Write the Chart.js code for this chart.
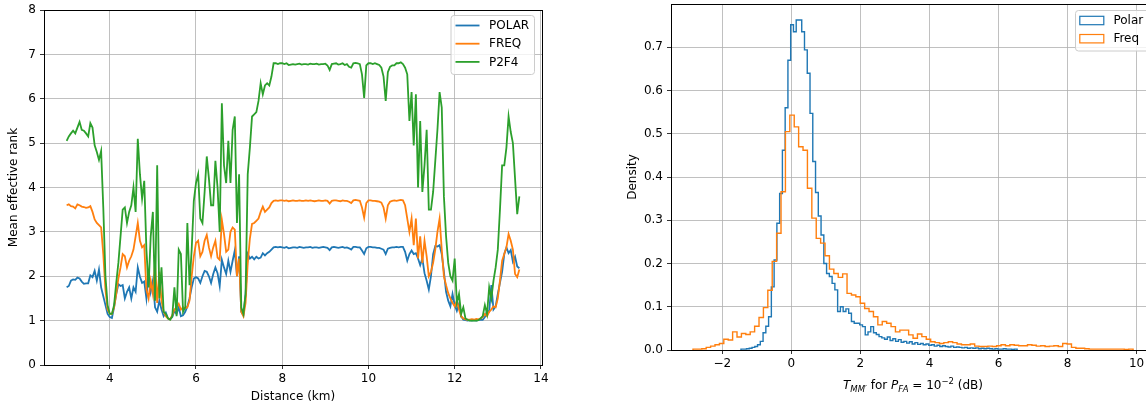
<!DOCTYPE html>
<html>
<head>
<meta charset="utf-8">
<script src="https://cdn.jsdelivr.net/npm/chart.js@4.4.1/dist/chart.umd.min.js"></script>
<style>
html,body{margin:0;padding:0;background:#fff;width:1146px;height:405px;overflow:hidden;}
#wrap{position:relative;width:1146px;height:405px;overflow:hidden;background:#fff;}
#c1{position:absolute;left:0;top:0;}
#c2{position:absolute;left:600px;top:0;}
#xlab2{position:absolute;left:763px;width:300px;top:378px;text-align:center;font-family:'DejaVu Sans',sans-serif;font-size:12px;line-height:14px;white-space:nowrap;color:#000;}
#xlab2 sub,#xlab2 sup{font-size:8.5px;line-height:0;position:relative;vertical-align:baseline;}
#xlab2 sub{top:3px;}
#xlab2 sup{top:-5px;}
</style>
</head>
<body>
<div id="wrap">
<canvas id="c1" width="560" height="405"></canvas>
<canvas id="c2" width="600" height="405"></canvas>
<div id="xlab2"><i>T</i><sub><i>MM′</i></sub> for <i>P</i><sub><i>FA</i></sub> = 10<sup>−2</sup> (dB)</div>
</div>
<script>
// ---------------- DATA ----------------
// Left panel: mean effective rank vs distance (km), sampled every 0.05 km from 3.0 km
const DIST_START = 3.0;
const DIST_STEP = 0.05;
const polarRank = [
 1.75,1.78,1.90,1.93,1.92,1.97,1.95,1.88,1.83,1.84,
 1.84,2.02,1.98,2.12,1.90,2.15,1.75,1.55,1.35,1.15,
 1.08,1.06,1.30,1.60,1.82,1.78,1.80,1.50,1.65,1.75,
 1.50,1.75,1.65,2.20,1.99,1.85,1.88,1.50,2.10,1.65,
 1.90,1.30,1.20,1.45,1.25,1.10,1.18,1.05,1.03,1.08,
 1.22,1.15,1.30,1.10,1.12,1.20,1.32,1.50,1.75,1.95,
 1.98,1.95,1.85,2.00,2.12,2.10,2.00,1.85,2.05,2.20,
 2.07,1.78,2.37,2.20,2.05,2.35,2.10,2.35,2.58,2.00,
 2.45,1.20,1.12,1.60,2.50,2.40,2.44,2.38,2.44,2.40,
 2.42,2.52,2.47,2.52,2.55,2.60,2.65,2.66,2.65,2.66,
 2.65,2.64,2.66,2.63,2.64,2.65,2.65,2.64,2.66,2.65,
 2.64,2.65,2.65,2.66,2.64,2.65,2.65,2.64,2.65,2.66,
 2.65,2.64,2.59,2.65,2.66,2.65,2.64,2.65,2.66,2.64,
 2.65,2.63,2.60,2.66,2.66,2.65,2.65,2.58,2.50,2.63,
 2.66,2.66,2.65,2.65,2.64,2.64,2.62,2.60,2.50,2.62,
 2.64,2.65,2.65,2.66,2.65,2.66,2.66,2.55,2.35,2.50,
 2.58,2.50,2.52,2.40,2.25,2.40,2.07,1.90,1.70,2.00,
 2.50,2.68,2.67,2.70,2.50,2.10,1.65,1.45,1.32,1.60,
 1.35,1.22,1.38,1.10,1.02,1.01,1.00,1.01,1.00,1.01,
 1.00,1.01,1.02,1.02,1.08,1.22,1.20,1.80,1.25,1.32,
 1.60,1.85,2.10,2.50,2.65,2.52,2.59,2.33,2.44,2.22,
 2.18
];
const freqRank = [
 3.60,3.62,3.58,3.57,3.53,3.62,3.60,3.57,3.56,3.54,
 3.55,3.58,3.45,3.28,3.20,3.15,3.10,2.50,1.70,1.25,
 1.16,1.15,1.30,1.60,1.95,2.20,2.50,2.45,2.20,2.35,
 2.45,2.60,2.90,3.20,2.80,2.65,2.70,1.70,1.50,1.90,
 1.60,2.30,1.40,2.10,1.45,1.20,1.10,1.05,1.03,1.12,
 1.25,1.30,1.38,1.25,1.30,1.28,1.30,1.45,2.00,2.45,
 2.75,2.80,2.45,2.55,2.80,2.93,2.65,2.45,2.65,2.80,
 2.42,2.37,3.27,2.95,2.55,2.60,3.00,3.10,3.05,2.00,
 2.40,1.20,1.10,1.40,2.30,2.85,3.18,3.20,3.25,3.30,
 3.45,3.57,3.45,3.50,3.55,3.65,3.70,3.71,3.70,3.71,
 3.71,3.70,3.71,3.69,3.70,3.71,3.70,3.70,3.71,3.70,
 3.70,3.71,3.70,3.71,3.70,3.69,3.70,3.71,3.70,3.70,
 3.71,3.70,3.64,3.70,3.71,3.71,3.70,3.69,3.71,3.70,
 3.70,3.68,3.65,3.71,3.72,3.71,3.70,3.55,3.32,3.65,
 3.71,3.71,3.70,3.70,3.69,3.68,3.66,3.55,3.30,3.60,
 3.68,3.70,3.71,3.70,3.71,3.72,3.71,3.60,3.30,3.00,
 3.30,2.70,3.30,2.40,2.90,2.30,2.80,2.45,2.00,2.10,
 2.30,2.60,3.00,3.30,2.60,2.00,1.80,1.62,1.50,1.40,
 1.32,1.45,1.25,1.10,1.05,1.03,1.02,1.02,1.03,1.02,
 1.04,1.03,1.05,1.08,1.15,1.10,1.20,1.25,1.32,1.30,
 1.50,1.90,2.35,2.50,2.65,2.95,2.80,2.60,2.05,1.98,
 2.15
];
const p2f4Rank = [
 5.05,5.15,5.22,5.28,5.22,5.35,5.48,5.30,5.28,5.22,
 5.15,5.45,5.35,4.95,4.80,4.62,4.82,3.55,2.00,1.35,
 1.15,1.15,1.35,1.85,2.30,2.90,3.50,3.55,3.20,3.45,
 3.60,4.00,3.45,5.10,4.30,3.75,4.15,2.60,1.75,2.90,
 3.45,1.45,4.50,1.50,2.20,1.20,1.15,1.05,1.02,1.10,
 1.75,1.10,2.60,2.50,1.20,1.30,3.20,1.80,2.60,3.70,
 4.10,4.30,3.30,3.20,3.90,4.70,4.20,3.60,3.60,4.60,
 4.00,3.00,5.90,4.50,4.10,5.05,4.10,5.30,5.60,3.20,
 4.30,1.30,1.15,1.60,4.30,4.90,5.60,5.65,5.70,5.95,
 6.35,6.10,6.30,6.35,6.30,6.50,6.80,6.80,6.78,6.80,
 6.80,6.78,6.80,6.76,6.77,6.78,6.77,6.78,6.79,6.77,
 6.78,6.78,6.77,6.79,6.78,6.78,6.79,6.77,6.78,6.78,
 6.79,6.75,6.65,6.78,6.79,6.80,6.77,6.78,6.80,6.76,
 6.78,6.72,6.70,6.80,6.81,6.80,6.78,6.55,6.02,6.75,
 6.80,6.80,6.78,6.80,6.78,6.76,6.70,6.50,5.95,6.60,
 6.72,6.75,6.75,6.80,6.80,6.82,6.78,6.70,6.55,5.50,
 6.15,4.95,6.10,4.00,5.50,3.90,4.50,5.30,3.50,3.50,
 3.90,4.60,5.30,6.15,5.80,3.80,2.90,2.30,2.00,1.90,
 2.40,1.40,1.60,1.15,1.30,1.05,1.02,1.00,1.00,1.00,
 1.00,1.01,1.05,1.10,1.35,1.15,1.75,1.50,1.90,2.20,
 2.60,3.50,4.50,4.50,4.90,5.60,5.25,5.00,4.20,3.40,
 3.80
];
const rankLabels = ['POLAR','FREQ','P2F4'];

// Right panel: step histograms (density), 100 bins each
const POLAR_BIN_START = -1.46;
const POLAR_BIN_WIDTH = 0.08;
const polarHist = [
 0.002,0.002,0.003,0.004,0.006,0.008,0.012,0.020,0.040,0.055,
 0.077,0.146,0.208,0.293,0.362,0.462,0.560,0.670,0.752,0.736,
 0.763,0.763,0.736,0.694,0.640,0.547,0.436,0.364,0.310,0.266,
 0.200,0.177,0.170,0.154,0.139,0.089,0.100,0.089,0.095,0.085,
 0.066,0.062,0.062,0.058,0.054,0.035,0.042,0.054,0.040,0.036,
 0.031,0.028,0.025,0.030,0.022,0.026,0.020,0.024,0.018,0.020,
 0.016,0.019,0.014,0.017,0.013,0.015,0.012,0.014,0.011,0.012,
 0.009,0.011,0.008,0.010,0.008,0.007,0.009,0.006,0.007,0.006,
 0.005,0.006,0.004,0.005,0.004,0.005,0.003,0.004,0.003,0.004,
 0.003,0.002,0.003,0.002,0.002,0.003,0.002,0.002,0.001,0.002
];
const FREQ_BIN_START = -2.85;
const FREQ_BIN_WIDTH = 0.1275;
const freqHist = [
 0.002,0.002,0.003,0.006,0.009,0.012,0.015,0.025,0.023,0.042,
 0.030,0.038,0.036,0.042,0.055,0.075,0.098,0.138,0.205,0.270,
 0.366,0.505,0.543,0.516,0.470,0.462,0.374,0.305,0.258,0.247,
 0.218,0.187,0.177,0.168,0.176,0.131,0.127,0.123,0.108,0.096,
 0.089,0.077,0.058,0.066,0.062,0.054,0.042,0.046,0.046,0.035,
 0.027,0.037,0.031,0.025,0.019,0.017,0.015,0.017,0.019,0.017,
 0.014,0.012,0.012,0.014,0.009,0.008,0.008,0.009,0.008,0.010,
 0.012,0.010,0.012,0.011,0.010,0.010,0.012,0.011,0.009,0.010,
 0.008,0.009,0.010,0.008,0.015,0.014,0.006,0.004,0.004,0.003,
 0.002,0.002,0.002,0.002,0.002,0.002,0.002,0.002,0.001,0.002
];
const histLabels = ['Polar','Freq'];

// Tick values
const leftXTicks = [4, 6, 8, 10, 12, 14];
const leftYTicks = [0, 1, 2, 3, 4, 5, 6, 7, 8];
const rightXTicks = [-2, 0, 2, 4, 6, 8, 10];
const rightYTicks = [0, 0.1, 0.2, 0.3, 0.4, 0.5, 0.6, 0.7];

// ---------------- STYLE ----------------
const FONT = "'DejaVu Sans', sans-serif";
const BLUE = '#1f77b4', ORANGE = '#ff7f0e', GREEN = '#2ca02c';
Chart.defaults.font.family = FONT;
Chart.defaults.font.size = 12;
Chart.defaults.color = '#000';

const distance = polarRank.map((_, i) => +(DIST_START + i * DIST_STEP).toFixed(2));
const series = (arr) => distance.map((d, i) => ({x: d, y: arr[i]}));

function histPoints(start, width, h) {
  const pts = [{x: start, y: 0}];
  for (let i = 0; i < h.length; i++) pts.push({x: start + width * (i + 1), y: h[i]});
  pts.push({x: start + width * h.length, y: 0});
  return pts;
}
const minus = (v) => (v < 0 ? '\u2212' + Math.abs(v) : String(v));
function fitter(prop, size) {
  return (s) => {
    s[prop] = size;
    s.paddingTop = 0; s.paddingBottom = 0; s.paddingLeft = 0; s.paddingRight = 0;
  };
}

const framePlugin = {
  id: 'frame',
  afterDatasetsDraw(chart) {
    const {ctx, chartArea: a} = chart;
    ctx.save();
    ctx.strokeStyle = '#000';
    ctx.lineWidth = 1;
    const l = Math.floor(a.left) + 0.5, t = Math.floor(a.top) + 0.5;
    const r = Math.floor(a.right) + 0.5, b = Math.floor(a.bottom) + 0.5;
    ctx.strokeRect(l, t, r - l, b - t);
    ctx.restore();
  }
};

function makeLegend(id, box, items) {
  return {
    id: id,
    afterDraw(chart) {
      const ctx = chart.ctx;
      ctx.save();
      ctx.beginPath();
      ctx.roundRect(box.x + 0.5, box.y + 0.5, box.w, box.h, 3);
      ctx.fillStyle = 'rgba(255,255,255,0.8)';
      ctx.fill();
      ctx.strokeStyle = '#cccccc';
      ctx.lineWidth = 1;
      ctx.stroke();
      ctx.font = '12px ' + FONT;
      ctx.textBaseline = 'middle';
      ctx.textAlign = 'left';
      items.forEach((it, k) => {
        const y = box.rowY + k * box.rowH;
        ctx.strokeStyle = it.color;
        if (it.kind === 'line') {
          ctx.lineWidth = 1.8;
          ctx.beginPath();
          ctx.moveTo(box.hx, y);
          ctx.lineTo(box.hx + 24, y);
          ctx.stroke();
        } else {
          ctx.lineWidth = 1.2;
          ctx.strokeRect(box.hx, y - 4.2, 24, 8.4);
        }
        ctx.fillStyle = '#000';
        ctx.fillText(it.label, box.tx, y + 0.5);
      });
      ctx.restore();
    }
  };
}

const gridOpts = {color: '#b0b0b0', lineWidth: 0.8, tickLength: 4, tickColor: '#000', drawTicks: true};

// ---------------- LEFT CHART ----------------
new Chart(document.getElementById('c1'), {
  type: 'line',
  data: {
    datasets: [
      {label: rankLabels[0], data: series(polarRank), borderColor: BLUE, borderWidth: 1.8, pointRadius: 0, tension: 0, fill: false, order: 3},
      {label: rankLabels[1], data: series(freqRank), borderColor: ORANGE, borderWidth: 1.8, pointRadius: 0, tension: 0, fill: false, order: 2},
      {label: rankLabels[2], data: series(p2f4Rank), borderColor: GREEN, borderWidth: 1.8, pointRadius: 0, tension: 0, fill: false, order: 1}
    ]
  },
  options: {
    responsive: false, animation: false, events: [],
    layout: {padding: {left: 0, top: 10, right: 18, bottom: 0}},
    plugins: {legend: {display: false}, tooltip: {enabled: false}},
    scales: {
      x: {
        type: 'linear', min: 2.475, max: 14.025,
        afterBuildTicks: (s) => { s.ticks = leftXTicks.map(v => ({value: v})); },
        afterFit: fitter('height', 40),
        grid: gridOpts, border: {display: false},
        ticks: {padding: 3, color: '#000', maxRotation: 0, callback: (v) => minus(v)},
        title: {display: true, text: 'Distance (km)', color: '#000', padding: {top: 0, bottom: 1.3}}
      },
      y: {
        type: 'linear', min: 0, max: 8,
        afterBuildTicks: (s) => { s.ticks = leftYTicks.map(v => ({value: v})); },
        afterFit: fitter('width', 44),
        grid: gridOpts, border: {display: false},
        ticks: {padding: 4, color: '#000', callback: (v) => minus(v)},
        title: {display: true, text: 'Mean effective rank', color: '#000', padding: {top: 6.3, bottom: 0}}
      }
    }
  },
  plugins: [framePlugin, makeLegend('legL',
    {x: 450.5, y: 15, w: 83.5, h: 59, rowY: 25.5, rowH: 18.2, hx: 455.5, tx: 489},
    [{label: rankLabels[0], color: BLUE, kind: 'line'},
     {label: rankLabels[1], color: ORANGE, kind: 'line'},
     {label: rankLabels[2], color: GREEN, kind: 'line'}])]
});

// ---------------- RIGHT CHART ----------------
new Chart(document.getElementById('c2'), {
  type: 'line',
  data: {
    datasets: [
      {label: histLabels[0], data: histPoints(POLAR_BIN_START, POLAR_BIN_WIDTH, polarHist), borderColor: BLUE, borderWidth: 1.4, pointRadius: 0, stepped: 'after', fill: false, order: 2},
      {label: histLabels[1], data: histPoints(FREQ_BIN_START, FREQ_BIN_WIDTH, freqHist), borderColor: ORANGE, borderWidth: 1.4, pointRadius: 0, stepped: 'after', fill: false, order: 1}
    ]
  },
  options: {
    responsive: false, animation: false, events: [],
    layout: {padding: {left: 0, top: 4, right: 44.9, bottom: 0}},
    plugins: {legend: {display: false}, tooltip: {enabled: false}},
    scales: {
      x: {
        type: 'linear', min: -3.4875, max: 10.5375,
        afterBuildTicks: (s) => { s.ticks = rightXTicks.map(v => ({value: v})); },
        afterFit: fitter('height', 55),
        grid: gridOpts, border: {display: false},
        ticks: {padding: 3, color: '#000', maxRotation: 0, callback: (v) => minus(v)}
      },
      y: {
        type: 'linear', min: 0, max: 0.8,
        afterBuildTicks: (s) => { s.ticks = rightYTicks.map(v => ({value: v})); },
        afterFit: fitter('width', 71),
        grid: gridOpts, border: {display: false},
        ticks: {padding: 4, color: '#000', callback: (v) => Number(v).toFixed(1)},
        title: {display: true, text: 'Density', color: '#000', padding: {top: 25.8, bottom: 0}}
      }
    }
  },
  plugins: [framePlugin, makeLegend('legR',
    {x: 475, y: 10, w: 73.5, h: 40.5, rowY: 20.5, rowH: 18.2, hx: 479.8, tx: 513.4},
    [{label: histLabels[0], color: BLUE, kind: 'patch'},
     {label: histLabels[1], color: ORANGE, kind: 'patch'}])]
});
</script>
</body>
</html>
